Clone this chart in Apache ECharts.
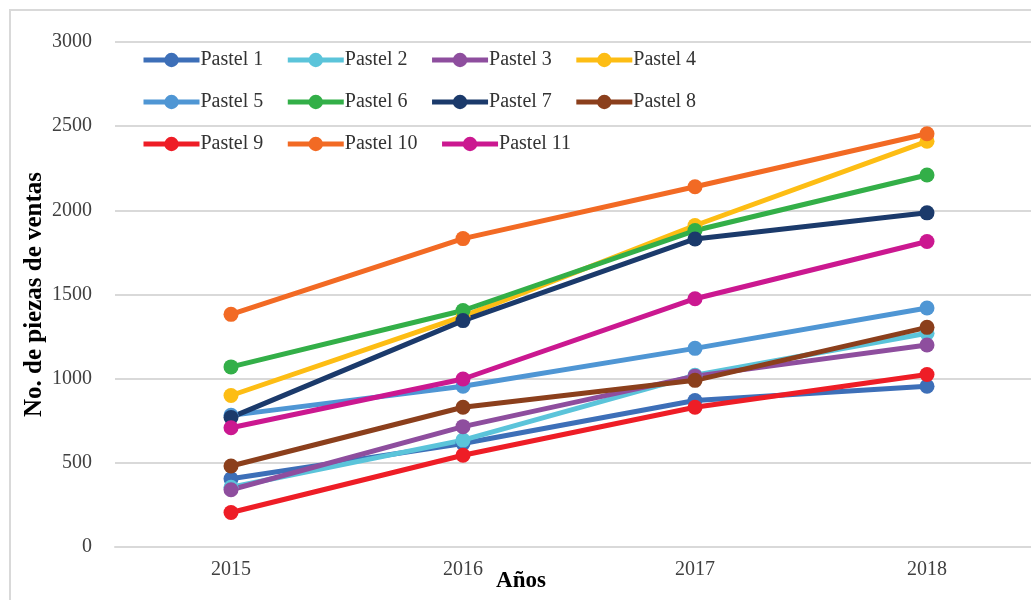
<!DOCTYPE html>
<html>
<head>
<meta charset="utf-8">
<script src="https://cdn.jsdelivr.net/npm/echarts@6/dist/echarts.min.js"></script>
<style>
  html, body { margin: 0; padding: 0; background: #fff; }
  #chart { width: 1031px; height: 600px; }
</style>
</head>
<body>
<div id="chart"></div>
<script>
// Years on the horizontal axis
const years = ['2015', '2016', '2017', '2018'];

// Pieces sold per year for each pastel
const pastel1 = [405, 615, 870, 955];
const pastel2 = [355, 635, 1020, 1270];
const pastel3 = [340, 715, 1015, 1200];
const pastel4 = [900, 1370, 1910, 2410];
const pastel5 = [782, 955, 1180, 1420];
const pastel6 = [1070, 1405, 1880, 2210];
const pastel7 = [770, 1345, 1830, 1985];
const pastel8 = [481, 830, 990, 1305];
const pastel9 = [205, 545, 830, 1025];
const pastel10 = [1382, 1832, 2140, 2455];
const pastel11 = [708, 998, 1475, 1815];

const seriesNames = ['Pastel 1', 'Pastel 2', 'Pastel 3', 'Pastel 4', 'Pastel 5', 'Pastel 6',
  'Pastel 7', 'Pastel 8', 'Pastel 9', 'Pastel 10', 'Pastel 11'];
const seriesValues = [pastel1, pastel2, pastel3, pastel4, pastel5, pastel6,
  pastel7, pastel8, pastel9, pastel10, pastel11];
const seriesColors = ['#3D6FB8', '#5BC4DA', '#8E4E9E', '#FDBD14', '#4F96D4', '#33AF48',
  '#1B3A6B', '#8B3F1C', '#EE1D26', '#F26A24', '#CB1890'];

const serif = '"Liberation Serif", "DejaVu Serif", serif';

const chart = echarts.init(document.getElementById('chart'));

chart.setOption({
  animation: false,
  backgroundColor: '#ffffff',
  color: seriesColors,
  graphic: [{
    type: 'rect',
    silent: true,
    z: -1,
    shape: { x: 10, y: 10, width: 1100, height: 700 },
    style: { fill: 'none', stroke: '#d9d9d9', lineWidth: 2 }
  }],
  legend: {
    left: 136,
    top: 45,
    width: 640,
    itemWidth: 56,
    itemHeight: 18,
    itemGap: 22,
    lineStyle: { width: 5 },
    textStyle: {
      fontFamily: serif,
      fontSize: 20,
      color: '#333333',
      width: 82,
      overflow: 'none',
      padding: [0, 0, 0, -4]
    },
    data: seriesNames
  },
  grid: {
    left: 115,
    right: -12,
    top: 42,
    bottom: 53,
    outerBoundsMode: 'none',
    containLabel: false
  },
  xAxis: {
    type: 'category',
    data: years,
    boundaryGap: true,
    axisLine: { show: true, lineStyle: { color: '#d9d9d9', width: 2 } },
    axisTick: { show: false },
    axisLabel: {
      fontFamily: serif,
      fontSize: 20,
      color: '#404040',
      margin: 13
    },
    name: 'Años',
    nameLocation: 'middle',
    nameGap: 23,
    nameMoveOverlap: false,
    nameTextStyle: {
      fontFamily: serif,
      fontSize: 23,
      fontWeight: 'bold',
      color: '#000000',
      padding: [0, 116, 0, 0]
    }
  },
  yAxis: {
    type: 'value',
    min: 0,
    max: 3000,
    interval: 500,
    axisLine: { show: false },
    axisTick: { show: false },
    splitLine: { lineStyle: { color: '#d9d9d9', width: 2 } },
    axisLabel: {
      fontFamily: serif,
      fontSize: 20,
      color: '#404040',
      margin: 23,
      formatter: (v) => String(v)
    },
    name: 'No. de piezas de ventas',
    nameLocation: 'middle',
    nameGap: 68,
    nameRotate: 90,
    nameMoveOverlap: false,
    nameTextStyle: {
      fontFamily: serif,
      fontSize: 25,
      fontWeight: 'bold',
      color: '#000000'
    }
  },
  series: seriesNames.map((name, i) => ({
    name: name,
    type: 'line',
    data: seriesValues[i],
    symbol: 'circle',
    symbolSize: 15,
    lineStyle: { width: 5, color: seriesColors[i] },
    itemStyle: { color: seriesColors[i] }
  }))
});
</script>
</body>
</html>
